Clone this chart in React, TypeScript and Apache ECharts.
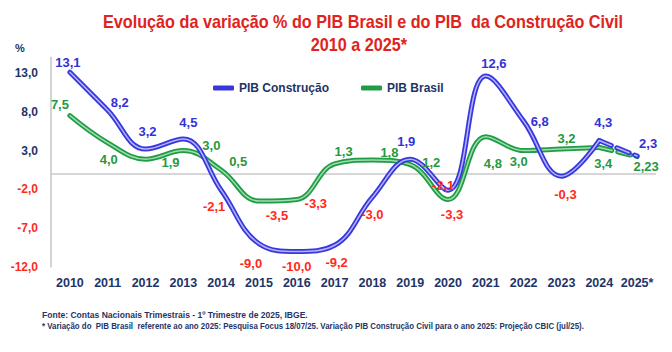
import React, { useEffect, useRef } from "react";
import * as echarts from "echarts";

const years = ["2010", "2011", "2012", "2013", "2014", "2015", "2016", "2017", "2018", "2019", "2020", "2021", "2022", "2023", "2024", "2025*"];
const pibConstrucao = [13.1, 8.2, 3.2, 4.5, -2.1, -9.0, -10.0, -9.2, -3.0, 1.9, -2.1, 12.6, 6.8, -0.3, 4.3, 2.3];
const pibBrasil = [7.5, 4.0, 1.9, 3.0, 0.5, -3.5, -3.3, 1.3, 1.8, 1.2, -3.3, 4.8, 3.0, 3.2, 3.4, 2.23];
const yMin = -12;
const yMax = 15;
const yInterval = 5;

const titleLine1 = "Evolução da variação % do PIB Brasil e do PIB  da Construção Civil";
const titleLine2 = "2010 a 2025*";
const fonte = "Fonte: Contas Nacionais Trimestrais - 1º Trimestre de 2025, IBGE.";
const nota = "* Variação do  PIB Brasil  referente ao ano 2025: Pesquisa Focus 18/07/25. Variação PIB Construção Civil para o ano 2025: Projeção CBIC (jul/25).";

// label offsets (style only)
const consOffsets = [[-2, -10], [12, -8], [2, -18], [5, -16], [-7, 16], [-8, 20], [0, 15], [2, 17], [0, 17], [-4, -18], [-5, -5], [8, -13], [16, 0], [4, 18], [4, -18], [11, -13]];
const brOffsets = [[-10, -11], [1, 17], [25, 3], [28, -5], [17, -9], [18, 14], [19, 4], [9, -12], [17, -7], [21, -2], [4, 15], [7, 27], [-5, 11], [5, -11], [4, 16], [9, 10]];

const FONT = '"Liberation Sans", Arial, sans-serif';
const NAVY = "#1f3466";
const RED = "#ff2a1a";
const BLUE = "#3737dc";
const BLUE_IN = "#b4b4ff";
const GREEN = "#1f9c45";
const GREEN_IN = "#9fdcae";
const BLUE_TXT = "#3232d6";
const GREEN_TXT = "#27983e";

const fmt = (v: number) => {
  const s = Number.isInteger(v) ? v.toFixed(1) : String(v);
  return s.replace(".", ",");
};

export default function App() {
  const ref = useRef<HTMLDivElement>(null);
  useEffect(() => {
    if (!ref.current) return;
    const chart = echarts.init(ref.current, null, { renderer: "svg" });
    const last = years.length - 1;
    const solid = (arr: number[]) => arr.map((v, i) => (i < last ? v : null));
    const dashed = (arr: number[]) => arr.map((v, i) => (i >= last - 1 ? v : null));
    const lineSeries = (name: string, data: (number | null)[], color: string, width: number, dash: boolean, z: number) => ({
      name,
      type: "line",
      data,
      smooth: 0.4,
      showSymbol: false,
      symbol: "none",
      connectNulls: false,
      z,
      itemStyle: { color },
      lineStyle: { color, width, type: dash ? [13, 6] : "solid", cap: "round" },
      silent: true,
    });
    const labelSeries = (arr: number[], offs: number[][], color: string) => ({
      type: "scatter",
      symbolSize: 2,
      itemStyle: { color: "rgba(0,0,0,0)", opacity: 1 },
      z: 10,
      silent: true,
      data: arr.map((v, i) => ({
        value: v,
        label: {
          show: true,
          position: [offs[i][0] + 1, offs[i][1] + 1],
          align: "center",
          verticalAlign: "middle",
          formatter: () => fmt(v),
          color: v < 0 ? RED : color,
          opacity: 1,
          fontFamily: FONT,
          fontWeight: "bold",
          fontSize: 13,
        },
      })),
    });
    const textStyleLegend = { color: NAVY, fontFamily: FONT, fontWeight: "bold", fontSize: 12 };
    chart.setOption({
      animation: false,
      grid: { left: 51, right: 16, top: 57.5, bottom: 85, containLabel: false },
      legend: [
        {
          data: [{ name: "PIB Construção", icon: "roundRect" }],
          left: 208,
          top: 77,
          itemWidth: 21,
          itemHeight: 5,
          textStyle: textStyleLegend,
          selectedMode: false,
        },
        {
          data: [{ name: "PIB Brasil", icon: "roundRect" }],
          left: 356,
          top: 77,
          itemWidth: 21,
          itemHeight: 5,
          textStyle: textStyleLegend,
          selectedMode: false,
        },
      ],
      xAxis: {
        type: "category",
        data: years,
        boundaryGap: true,
        axisLine: { show: false },
        axisTick: { show: false },
        axisLabel: { interval: 0, color: NAVY, fontFamily: FONT, fontWeight: "bold", fontSize: 12.5, margin: 9 },
      },
      yAxis: {
        type: "value",
        min: yMin,
        max: yMax,
        interval: yInterval,
        splitLine: { show: false },
        axisTick: { show: false },
        axisLine: { show: true, lineStyle: { color: "#c4c4c4", width: 1.5 } },
        axisLabel: {
          showMaxLabel: false,
          margin: 13,
          fontFamily: FONT,
          fontWeight: "bold",
          fontSize: 12,
          formatter: (v: number) => Number(v).toFixed(1).replace(".", ","),
          color: (v: any) => (Number(v) < 0 ? RED : NAVY),
        },
      },
      series: [
        {
          ...lineSeries("PIB Construção", solid(pibConstrucao), BLUE, 5, false, 4),
          markLine: {
            silent: true,
            symbol: "none",
            label: { show: false },
            lineStyle: { color: "#c8c8c8", width: 1.5, type: "solid" },
            data: [{ yAxis: 0 }],
            z: 1,
          },
        },
        lineSeries("cons-in", solid(pibConstrucao), BLUE_IN, 1.5, false, 5),
        lineSeries("cons-d", dashed(pibConstrucao), BLUE, 5, true, 4),
        lineSeries("cons-d-in", dashed(pibConstrucao), BLUE_IN, 1.5, true, 5),
        lineSeries("PIB Brasil", solid(pibBrasil), GREEN, 5, false, 2),
        lineSeries("br-in", solid(pibBrasil), GREEN_IN, 1.5, false, 3),
        lineSeries("br-d", dashed(pibBrasil), GREEN, 5, true, 2),
        lineSeries("br-d-in", dashed(pibBrasil), GREEN_IN, 1.5, true, 3),
        labelSeries(pibConstrucao, consOffsets, BLUE_TXT),
        labelSeries(pibBrasil, brOffsets, GREEN_TXT),
      ],
      graphic: [
        {
          type: "group",
          x: 363,
          y: 22,
          scaleX: 0.9,
          children: [
            {
              type: "text",
              x: 0,
              y: 0,
              style: { text: titleLine1, fill: "#e0231c", font: `bold 18px ${FONT}`, textAlign: "center", textVerticalAlign: "middle" },
            },
          ],
        },
        {
          type: "group",
          x: 359,
          y: 45,
          scaleX: 0.9,
          children: [
            {
              type: "text",
              x: 0,
              y: 0,
              style: { text: titleLine2, fill: "#e0231c", font: `bold 18px ${FONT}`, textAlign: "center", textVerticalAlign: "middle" },
            },
          ],
        },
        {
          type: "text",
          x: 20,
          y: 48,
          style: { text: "%", fill: NAVY, font: `bold 11px ${FONT}`, textAlign: "center", textVerticalAlign: "middle" },
        },
        {
          type: "group",
          x: 42,
          y: 315,
          scaleX: 0.9,
          children: [
            {
              type: "text",
              x: 0,
              y: 0,
              style: { text: fonte, fill: NAVY, font: `bold 9.5px ${FONT}`, textAlign: "left", textVerticalAlign: "middle" },
            },
          ],
        },
        {
          type: "group",
          x: 42,
          y: 326,
          scaleX: 0.83,
          children: [
            {
              type: "text",
              x: 0,
              y: 0,
              style: { text: nota, fill: NAVY, font: `bold 9.5px ${FONT}`, textAlign: "left", textVerticalAlign: "middle" },
            },
          ],
        },
      ],
    });
    return () => chart.dispose();
  }, []);
  return <div ref={ref} style={{ width: 672, height: 352, position: "absolute", left: 0, top: 0 }} />;
}
